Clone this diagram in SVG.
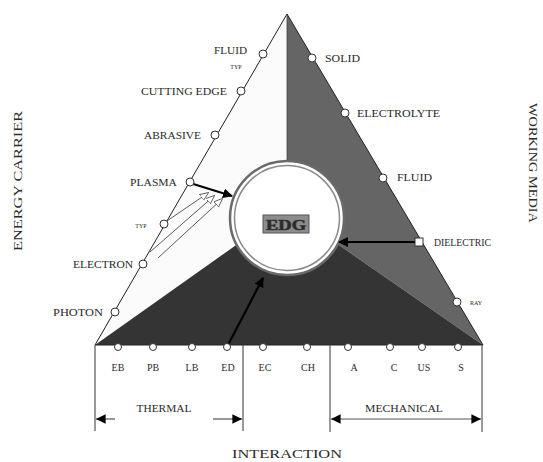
<svg xmlns="http://www.w3.org/2000/svg" width="543" height="462" viewBox="0 0 543 462">
<style>
  text { font-family: "Liberation Serif", "Times New Roman", serif; fill: #2a2a2a; }
  .lbl { font-size: 10px; }
  .tiny { font-size: 6px; }
  .title { font-size: 13px; }
  .node { fill: #fff; stroke: #333; stroke-width: 1; }
  .thin { stroke: #333; stroke-width: 0.8; fill: none; }
  .edge { stroke: #222; stroke-width: 1; fill: none; }
  .arr { stroke: #000; stroke-width: 2.2; fill: none; }
  .dim { stroke: #555; stroke-width: 1.2; fill: none; }
</style>
<defs>
  <marker id="hd" viewBox="0 0 10 10" refX="9" refY="5" markerWidth="4.5" markerHeight="4.5" orient="auto" markerUnits="strokeWidth">
    <path d="M0,0 L10,5 L0,10 Z" fill="#000"/>
  </marker>
  <marker id="hopen" viewBox="0 0 10 10" refX="9" refY="5" markerWidth="11" markerHeight="11" orient="auto" markerUnits="strokeWidth">
    <path d="M0,1 L10,5 L0,9 Z" fill="#fff" stroke="#333" stroke-width="0.8"/>
  </marker>
  <marker id="hdim" viewBox="0 0 10 10" refX="10" refY="5" markerWidth="10" markerHeight="8" orient="auto" markerUnits="strokeWidth">
    <path d="M0,0 L10,5 L0,10 Z" fill="#000"/>
  </marker>
</defs>

<g id="triangle">
  <polygon points="287,14 95,345 287,209" fill="#fbfbfb"/>
  <polygon points="287,14 483,345 287,209" fill="#656565"/>
  <polygon points="95,345 483,345 287,209" fill="#343434"/>
  <polygon points="287,14 95,345 483,345" class="edge"/>
  <line x1="287" y1="14" x2="287" y2="209" stroke="#444" stroke-width="0.8"/>
</g>

<g id="edg">
  <circle cx="287" cy="218" r="57" fill="#fff" stroke="#6a6a6a" stroke-width="2.5"/>
  <circle cx="287" cy="218" r="52.5" fill="#fff" stroke="#8a8a8a" stroke-width="1.5"/>
  <rect x="263" y="215" width="46" height="18" fill="#8c8c8c" stroke="#555" stroke-width="1"/>
  <text x="286" y="229.5" text-anchor="middle" font-size="14" font-weight="bold" fill="#eee" stroke="#333" stroke-width="0.6" textLength="40" lengthAdjust="spacingAndGlyphs">EDG</text>
</g>

<g id="connectors">
  <line x1="190" y1="183" x2="232" y2="196" class="arr" marker-end="url(#hd)"/>
  <line x1="164" y1="223" x2="208" y2="193" class="thin" marker-end="url(#hopen)"/>
  <line x1="150" y1="252" x2="214" y2="196" class="thin" marker-end="url(#hopen)"/>
  <line x1="158" y1="258" x2="222" y2="199" class="thin" marker-end="url(#hopen)"/>
  <line x1="419" y1="242" x2="339" y2="242" class="arr" marker-end="url(#hd)"/>
  <line x1="228" y1="345" x2="263" y2="278" class="arr" marker-end="url(#hd)"/>
</g>

<g id="energy-carrier">
  <g id="n-fluid-l"><circle class="node" cx="263" cy="54" r="4"/><text class="lbl" x="247" y="54" text-anchor="end" textLength="33" lengthAdjust="spacingAndGlyphs">FLUID</text></g>
  <text class="tiny" x="236" y="69" text-anchor="middle">TYP</text>
  <g id="n-cutting"><circle class="node" cx="241" cy="91" r="4"/><text class="lbl" x="227" y="95" text-anchor="end" textLength="86" lengthAdjust="spacingAndGlyphs">CUTTING EDGE</text></g>
  <g id="n-abrasive"><circle class="node" cx="215" cy="135" r="4"/><text class="lbl" x="201" y="139" text-anchor="end" textLength="57" lengthAdjust="spacingAndGlyphs">ABRASIVE</text></g>
  <g id="n-plasma"><circle class="node" cx="190" cy="182" r="4"/><text class="lbl" x="177" y="186" text-anchor="end" textLength="47" lengthAdjust="spacingAndGlyphs">PLASMA</text></g>
  <g id="n-typ"><circle class="node" cx="164" cy="224" r="4"/><text class="tiny" x="141" y="228" text-anchor="middle">TYP</text></g>
  <g id="n-electron"><circle class="node" cx="143" cy="264" r="4"/><text class="lbl" x="133" y="268" text-anchor="end" textLength="60" lengthAdjust="spacingAndGlyphs">ELECTRON</text></g>
  <g id="n-photon"><circle class="node" cx="115" cy="312" r="4"/><text class="lbl" x="103" y="316" text-anchor="end" textLength="50" lengthAdjust="spacingAndGlyphs">PHOTON</text></g>
</g>

<g id="working-media">
  <g id="n-solid"><circle class="node" cx="312" cy="58" r="4"/><text class="lbl" x="325" y="62" textLength="35" lengthAdjust="spacingAndGlyphs">SOLID</text></g>
  <g id="n-electrolyte"><circle class="node" cx="345" cy="113" r="4"/><text class="lbl" x="357" y="117" textLength="83" lengthAdjust="spacingAndGlyphs">ELECTROLYTE</text></g>
  <g id="n-fluid-r"><circle class="node" cx="383" cy="178" r="4"/><text class="lbl" x="397" y="181" textLength="35" lengthAdjust="spacingAndGlyphs">FLUID</text></g>
  <g id="n-dielectric"><rect class="node" x="415" y="238" width="8" height="8"/><text class="lbl" x="434" y="246" textLength="57" lengthAdjust="spacingAndGlyphs">DIELECTRIC</text></g>
  <g id="n-ray"><circle class="node" cx="457" cy="302" r="4"/><text class="tiny" x="470" y="305">RAY</text></g>
</g>

<g id="interaction">
  <g id="n-eb"><circle class="node" cx="118" cy="347" r="3.5"/><text class="lbl" x="118" y="371" text-anchor="middle" font-size="9">EB</text></g>
  <g id="n-pb"><circle class="node" cx="153" cy="347" r="3.5"/><text class="lbl" x="153" y="371" text-anchor="middle" font-size="9">PB</text></g>
  <g id="n-lb"><circle class="node" cx="192" cy="347" r="3.5"/><text class="lbl" x="192" y="371" text-anchor="middle" font-size="9">LB</text></g>
  <g id="n-ed"><circle class="node" cx="227" cy="347" r="3.5"/><text class="lbl" x="228" y="371" text-anchor="middle" font-size="9">ED</text></g>
  <g id="n-ec"><circle class="node" cx="263" cy="347" r="3.5"/><text class="lbl" x="265" y="371" text-anchor="middle" font-size="9">EC</text></g>
  <g id="n-ch"><circle class="node" cx="307" cy="347" r="3.5"/><text class="lbl" x="308" y="371" text-anchor="middle" font-size="9">CH</text></g>
  <g id="n-a"><circle class="node" cx="348" cy="347" r="3.5"/><text class="lbl" x="354" y="371" text-anchor="middle" font-size="9">A</text></g>
  <g id="n-c"><circle class="node" cx="390" cy="347" r="3.5"/><text class="lbl" x="394" y="371" text-anchor="middle" font-size="9">C</text></g>
  <g id="n-us"><circle class="node" cx="422" cy="347" r="3.5"/><text class="lbl" x="424" y="371" text-anchor="middle" font-size="9">US</text></g>
  <g id="n-s"><circle class="node" cx="458" cy="347" r="3.5"/><text class="lbl" x="461" y="371" text-anchor="middle" font-size="9">S</text></g>
</g>

<g id="brackets">
  <line x1="95" y1="345" x2="95" y2="431" class="dim"/>
  <line x1="243" y1="345" x2="243" y2="431" class="dim"/>
  <line x1="330" y1="345" x2="330" y2="432" class="dim"/>
  <line x1="482" y1="345" x2="482" y2="432" class="dim"/>
  <line x1="115" y1="419" x2="96" y2="419" class="dim" marker-end="url(#hdim)"/>
  <line x1="213" y1="419" x2="242" y2="419" class="dim" marker-end="url(#hdim)"/>
  <line x1="406" y1="419" x2="331" y2="419" class="dim" marker-end="url(#hdim)"/>
  <line x1="406" y1="419" x2="481" y2="419" class="dim" marker-end="url(#hdim)"/>
  <text class="lbl" x="164" y="412" text-anchor="middle" textLength="55" lengthAdjust="spacingAndGlyphs">THERMAL</text>
  <text class="lbl" x="404" y="412" text-anchor="middle" textLength="78" lengthAdjust="spacingAndGlyphs">MECHANICAL</text>
</g>

<g id="titles">
  <text class="title" transform="translate(22,181) rotate(-90)" text-anchor="middle" textLength="140" lengthAdjust="spacingAndGlyphs">ENERGY CARRIER</text>
  <text class="title" transform="translate(529,163) rotate(90)" text-anchor="middle" textLength="120" lengthAdjust="spacingAndGlyphs">WORKING MEDIA</text>
  <text class="title" x="287" y="458" text-anchor="middle" textLength="110" lengthAdjust="spacingAndGlyphs">INTERACTION</text>
</g>
</svg>
